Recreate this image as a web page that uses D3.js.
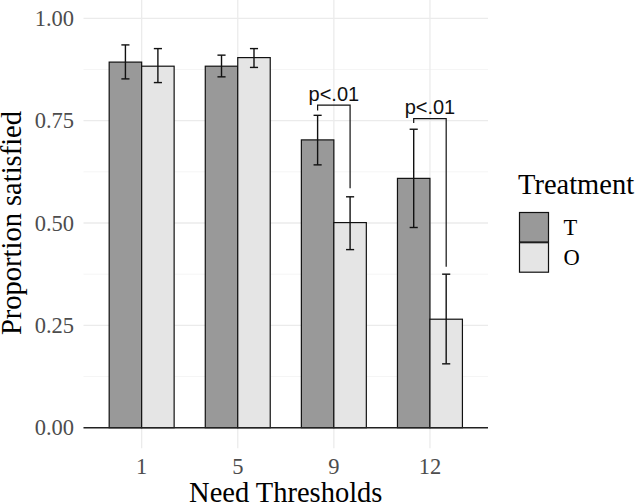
<!DOCTYPE html>
<html><head><meta charset="utf-8">
<script src="https://cdn.jsdelivr.net/npm/d3@7"></script>
<style>html,body{margin:0;padding:0;background:#fff;}svg{display:block;}</style>
</head><body>
<svg id="chart" width="636" height="504"></svg>
<script>
const categories = ["1", "5", "9", "12"];
const groups = ["T", "O"];
const valuesT = [0.893, 0.883, 0.703, 0.609];
const valuesO = [0.883, 0.904, 0.501, 0.265];
const lowT = [0.852, 0.857, 0.642, 0.489];
const highT = [0.935, 0.910, 0.763, 0.729];
const lowO = [0.843, 0.880, 0.435, 0.156];
const highO = [0.926, 0.926, 0.564, 0.375];
const yTicks = [0, 0.25, 0.5, 0.75, 1];
const yMinor = [0.125, 0.375, 0.625, 0.875];
const bracketCats = ["9", "12"];
const bracketY = [0.788, 0.755];
const bracketLeftEnd = [0.775, 0.744];
const bracketRightEnd = [0.585, 0.393];
const bracketLabel = "p<.01";
const fills = {T: "#999999", O: "#e5e5e5"};

const svg = d3.select("#chart");
const serif = "'Liberation Serif','Times New Roman',serif";
const sans = "'Liberation Sans',Arial,sans-serif";

const x = d3.scaleBand().domain(categories).range([84, 487.6]).paddingInner(0).paddingOuter(0.1);
const y = d3.scaleLinear().domain([0, 1]).range([427.7, 18.3]);
const dodgeW = x.bandwidth() * 0.676;
const xg = d3.scaleBand().domain(groups).range([-dodgeW / 2, dodgeW / 2]);
const cx = c => x(c) + x.bandwidth() / 2;

const px0 = 83.5, px1 = 488;
const py0 = y(1.05), py1 = y(-0.05);

// minor grid
svg.append("g").selectAll("line").data(yMinor).join("line")
  .attr("x1", px0).attr("x2", px1).attr("y1", d => y(d)).attr("y2", d => y(d))
  .attr("stroke", "#f3f3f3").attr("stroke-width", 0.8);
// major grid
svg.append("g").selectAll("line").data(yTicks).join("line")
  .attr("x1", px0).attr("x2", px1).attr("y1", d => y(d)).attr("y2", d => y(d))
  .attr("stroke", "#ebebeb").attr("stroke-width", 1.3);
svg.append("g").selectAll("line").data(categories).join("line")
  .attr("x1", d => cx(d)).attr("x2", d => cx(d)).attr("y1", py0).attr("y2", py1)
  .attr("stroke", "#ebebeb").attr("stroke-width", 1.3);

// data rows
const rows = [];
categories.forEach((c, i) => {
  rows.push({c, g: "T", v: valuesT[i], lo: lowT[i], hi: highT[i]});
  rows.push({c, g: "O", v: valuesO[i], lo: lowO[i], hi: highO[i]});
});

// bars
svg.append("g").selectAll("rect").data(rows).join("rect")
  .attr("x", d => cx(d.c) + xg(d.g)).attr("width", xg.bandwidth())
  .attr("y", d => y(d.v)).attr("height", d => y(0) - y(d.v))
  .attr("fill", d => fills[d.g]).attr("stroke", "#111").attr("stroke-width", 1.2);

// zero line
svg.append("line").attr("x1", px0).attr("x2", px1).attr("y1", y(0)).attr("y2", y(0))
  .attr("stroke", "#222").attr("stroke-width", 1.6);

// error bars
const capW = xg.bandwidth() * 0.25;
const eb = svg.append("g").attr("stroke", "#111").attr("stroke-width", 1.4);
rows.forEach(d => {
  const mx = cx(d.c) + xg(d.g) + xg.bandwidth() / 2;
  eb.append("line").attr("x1", mx).attr("x2", mx).attr("y1", y(d.lo)).attr("y2", y(d.hi));
  eb.append("line").attr("x1", mx - capW / 2).attr("x2", mx + capW / 2).attr("y1", y(d.lo)).attr("y2", y(d.lo));
  eb.append("line").attr("x1", mx - capW / 2).attr("x2", mx + capW / 2).attr("y1", y(d.hi)).attr("y2", y(d.hi));
});

// significance brackets
bracketCats.forEach((c, i) => {
  const xl = cx(c) + xg("T") + xg.bandwidth() / 2;
  const xr = cx(c) + xg("O") + xg.bandwidth() / 2;
  svg.append("path")
    .attr("d", `M${xl},${y(bracketLeftEnd[i])}V${y(bracketY[i])}H${xr}V${y(bracketRightEnd[i])}`)
    .attr("fill", "none").attr("stroke", "#111").attr("stroke-width", 1.2);
  svg.append("text").attr("x", (xl + xr) / 2).attr("y", y(bracketY[i]) - 4.5)
    .attr("text-anchor", "middle").attr("font-family", sans).attr("font-size", 20)
    .attr("fill", "#111").text(bracketLabel);
});

// y tick labels
svg.append("g").selectAll("text").data(yTicks).join("text")
  .attr("x", 74).attr("y", d => y(d)).attr("dy", "0.34em").attr("text-anchor", "end")
  .attr("font-family", serif).attr("font-size", 22.5).attr("fill", "#4d4d4d")
  .text(d => d3.format(".2f")(d));
// x tick labels
svg.append("g").selectAll("text").data(categories).join("text")
  .attr("x", d => cx(d)).attr("y", 473.5).attr("text-anchor", "middle")
  .attr("font-family", serif).attr("font-size", 22.5).attr("fill", "#4d4d4d")
  .text(d => d);

// axis titles
svg.append("text").attr("x", (px0 + px1) / 2).attr("y", 501.5).attr("text-anchor", "middle")
  .attr("font-family", serif).attr("font-size", 28.5).attr("fill", "#000").text("Need Thresholds");
svg.append("text").attr("transform", `translate(21,${(y(0) + y(1)) / 2}) rotate(-90)`)
  .attr("text-anchor", "middle").attr("font-family", serif).attr("font-size", 28.5)
  .attr("fill", "#000").text("Proportion satisfied");

// legend
const lg = svg.append("g");
lg.append("text").attr("x", 518).attr("y", 194.3).attr("font-family", serif)
  .attr("font-size", 28.5).attr("fill", "#000").text("Treatment");
groups.forEach((g, i) => {
  const ky = 212.5 + i * 30.2;
  lg.append("rect").attr("x", 519.5).attr("y", ky).attr("width", 29).attr("height", 29.5)
    .attr("fill", fills[g]).attr("stroke", "#111").attr("stroke-width", 1.2);
  lg.append("text").attr("x", 563.5).attr("y", ky + 14.75).attr("dy", "0.35em")
    .attr("font-family", serif).attr("font-size", 22.5).attr("fill", "#000").text(g);
});
</script>
</body></html>
